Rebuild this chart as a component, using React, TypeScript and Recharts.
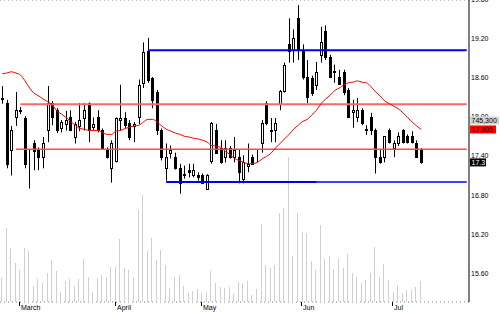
import React from 'react';
import { ComposedChart, Bar, Line, XAxis, YAxis, CartesianGrid, ReferenceLine } from 'recharts';

const opens = [18.27,18.21,17.49,18.00,18.09,17.98,17.22,17.59,17.49,17.38,
 17.79,18.21,18.10,17.83,17.89,17.99,17.69,17.86,17.98,18.21,
 17.84,17.99,17.79,17.50,17.21,17.32,17.95,17.98,17.90,17.86,
 17.99,18.52,19.01,18.60,18.38,17.79,17.21,17.45,17.38,17.21,
 17.10,17.18,17.10,17.10,17.10,16.90,17.32,17.79,17.52,17.39,
 17.52,17.38,17.38,17.05,17.25,17.39,17.38,17.59,18.21,17.78,
 17.79,18.20,18.40,19.11,19.03,19.52,19.03,18.61,18.60,18.49,
 18.95,19.31,18.91,18.69,18.61,18.69,18.41,18.07,17.99,18.10,
 17.79,17.99,17.79,17.39,17.38,17.79,17.52,17.59,17.79,17.70,
 17.70,17.59,17.50];
const highs = [18.47,18.26,17.86,18.38,18.15,18.01,17.50,17.64,17.53,17.69,
 18.47,18.24,18.13,17.95,18.09,18.10,17.92,18.21,18.21,18.22,
 17.99,18.10,17.82,17.53,17.64,17.99,18.49,18.07,17.95,17.92,
 18.57,19.14,19.21,18.61,18.41,17.82,17.59,17.56,17.45,17.28,
 17.25,17.28,17.28,17.15,17.13,17.12,17.92,17.89,17.64,17.64,
 17.55,17.69,17.49,17.41,17.59,17.42,17.49,17.95,18.24,17.98,
 17.98,18.41,18.83,19.51,19.34,19.71,19.11,18.87,18.63,18.84,
 19.38,19.40,18.95,18.80,18.72,18.72,18.44,18.26,18.29,18.13,
 17.87,18.06,17.82,17.49,17.70,17.82,17.64,17.76,17.81,17.73,
 17.78,17.64,17.52];
const lows = [18.20,17.21,17.10,17.86,18.04,17.21,16.90,17.18,17.18,17.21,
 17.61,17.87,17.75,17.76,17.79,17.78,17.59,17.78,17.79,17.61,
 17.79,17.76,17.49,17.36,16.99,17.30,17.79,17.82,17.64,17.61,
 17.89,18.44,18.52,18.13,17.72,17.33,17.02,17.36,17.19,16.82,
 17.05,17.07,17.07,17.02,16.98,16.90,17.28,17.44,17.28,17.30,
 17.36,17.30,16.98,16.98,17.15,17.27,17.30,17.45,17.87,17.61,
 17.61,18.10,18.37,18.83,18.83,18.87,18.57,18.21,18.32,18.41,
 18.83,18.87,18.60,18.52,18.49,18.33,17.98,17.83,17.92,17.87,
 17.72,17.72,17.13,17.28,17.30,17.59,17.38,17.55,17.59,17.59,
 17.59,17.38,17.28];
const closes = [18.29,17.28,17.79,18.10,18.10,17.28,17.21,17.47,17.38,17.59,
 18.21,17.99,17.79,17.92,17.95,17.79,17.89,17.95,18.10,17.79,
 17.89,17.79,17.50,17.38,17.59,17.98,17.98,17.87,17.69,17.89,
 18.49,19.00,18.57,18.26,17.79,17.38,17.38,17.49,17.21,16.98,
 17.12,17.15,17.18,17.08,16.99,17.10,17.90,17.45,17.30,17.52,
 17.38,17.49,17.15,17.30,17.27,17.28,17.39,17.90,17.90,17.79,
 17.90,18.40,18.80,19.01,19.21,19.03,18.61,18.30,18.37,18.69,
 19.14,18.91,18.61,18.70,18.50,18.38,17.99,18.10,18.10,17.90,
 17.81,17.79,17.38,17.30,17.70,17.61,17.59,17.70,17.61,17.61,
 17.61,17.39,17.30];
const movingAvg = [18.66,18.67,18.69,18.67,18.64,18.55,18.44,18.36,18.32,18.27,
 18.23,18.18,18.09,18.04,17.99,17.93,17.87,17.82,17.81,17.79,
 17.79,17.79,17.76,17.73,17.73,17.78,17.79,17.82,17.84,17.86,
 17.87,17.92,17.96,17.96,17.92,17.86,17.81,17.78,17.75,17.73,
 17.70,17.69,17.67,17.66,17.64,17.61,17.56,17.55,17.53,17.47,
 17.42,17.36,17.33,17.30,17.28,17.28,17.30,17.35,17.39,17.44,
 17.52,17.59,17.66,17.73,17.81,17.87,17.93,17.96,18.03,18.10,
 18.20,18.27,18.33,18.40,18.44,18.49,18.52,18.53,18.55,18.53,
 18.52,18.46,18.38,18.32,18.24,18.20,18.16,18.12,18.06,17.99,
 17.92,17.86,17.805];
// volume in thousands of shares
const volumes = [852,2627,1917,1385,1136,1917,1811,568,817,675,
 1030,1491,1101,355,746,817,568,817,1527,888,
 355,852,959,888,1243,1243,2237,1207,1136,888,
 3266,3799,1811,2272,1491,1846,1314,497,888,959,
 568,320,391,462,320,355,1101,675,533,497,
 533,284,710,675,746,249,462,2769,1314,1207,
 1314,3160,3337,5148,1633,3160,2485,2450,1456,1136,
 2734,1527,1633,1172,1562,1207,1704,1030,888,675,
 781,1030,1953,888,1349,781,355,604,320,426,
 426,533,745.3];

const SLOTS = 103;
const monthStarts = [4, 25, 44, 66, 86];
const monthLabels = ['March', 'April', 'May', 'Jun', 'Jul'];
const priceTicks = [15.6, 16.2, 16.8, 17.4, 18.0, 18.6, 19.2, 19.8];
const priceDomain = [15.16, 19.79];
const volumeDomain = [0, 10720];

const blueHigh = 19.02;
const blueHighFrom = 32;
const blueLow = 17.0;
const blueLowFrom = 36;
const blueLowThickTo = 69;
const redHigh = 18.19;
const redHighFrom = 4;
const redLow = 17.5;
const redLowFrom = 3;

const FONT = '"Liberation Sans", Arial, sans-serif';

const rows = Array.from({ length: SLOTS }, (_, i) =>
  i < closes.length
    ? { i, o: opens[i], h: highs[i], l: lows[i], c: closes[i], range: [lows[i], highs[i]], ma: movingAvg[i], vol: volumes[i] }
    : { i }
);

const Candle = (props: any) => {
  const { x, y, width, height, payload } = props;
  if (!payload || payload.o == null || x == null) return null;
  const { o, h, l, c } = payload;
  const cx = Math.floor(x + width / 2) + 0.5;
  const span = h - l;
  const toY = (p: number) => (span === 0 ? y : y + ((h - p) / span) * height);
  const yO = toY(o);
  const yC = toY(c);
  const top = Math.round(Math.min(yO, yC)) + 0.5;
  const bot = Math.round(Math.max(yO, yC)) + 0.5;
  const up = c >= o;
  return (
    <g>
      <line x1={cx} x2={cx} y1={y} y2={y + height} stroke="#000" strokeWidth={1} />
      <rect x={cx - 1} y={top} width={2} height={Math.max(bot - top, 0)} fill={up ? '#fff' : '#000'} stroke="#000" strokeWidth={1} />
    </g>
  );
};

const VolBar = (props: any) => {
  const { x, y, width, height } = props;
  if (x == null || !height) return null;
  const cx = Math.floor(x + width / 2) - 0.5;
  return <line x1={cx} x2={cx} y1={y} y2={y + height} stroke="#cfcfcf" strokeWidth={1} />;
};

const MonthMark = (props: any) => {
  const { viewBox, text } = props;
  if (!viewBox) return null;
  const tx = Math.floor(viewBox.x) - 0.5;
  const base = viewBox.y + viewBox.height;
  return (
    <g>
      <line x1={tx} x2={tx} y1={base} y2={base + 4} stroke="#000" strokeWidth={1} />
      <text x={tx + 1.5} y={base + 7.5} fontSize={7} fontFamily={FONT} fill="#000">
        {text}
      </text>
    </g>
  );
};

const PriceText = (props: any) => {
  const { viewBox, text } = props;
  if (!viewBox) return null;
  return (
    <text x={viewBox.x + viewBox.width + 2} y={viewBox.y} dy="0.36em" fontSize={7} fontFamily={FONT} fill="#000">
      {text}
    </text>
  );
};

const ValueBox = (props: any) => {
  const { viewBox, text, bg, color, w, dy = 0 } = props;
  if (!viewBox) return null;
  const bx = viewBox.x + viewBox.width + 1;
  const cy = viewBox.y + dy;
  return (
    <g>
      <rect x={bx} y={cy - 4} width={w} height={8} fill={bg} />
      <text x={bx + 1.5} y={cy} dy="0.36em" fontSize={7} fontFamily={FONT} fill={color}>
        {text}
      </text>
    </g>
  );
};

const lastIdx = closes.length - 1;
const lastClose = closes[lastIdx];
const lastMa = movingAvg[lastIdx];
const lastVol = Math.round(volumes[lastIdx] * 1000).toLocaleString('en-US');

export default function App() {
  return (
    <div style={{ position: 'absolute', left: 0, top: 0, width: 500, height: 312, background: '#fff' }}>
      <ComposedChart width={500} height={312} data={rows} margin={{ top: 0, right: 0, bottom: 0, left: 0 }}>
        <CartesianGrid yAxisId="p" xAxisId="x" vertical={false} stroke="#808080" strokeDasharray="1 3" />
        <XAxis xAxisId="x" dataKey="i" type="category" tick={false} tickLine={false} height={10} axisLine={{ stroke: '#000' }} />
        <XAxis xAxisId="v" dataKey="i" type="category" hide />
        <YAxis yAxisId="p" orientation="right" domain={priceDomain} ticks={priceTicks} allowDataOverflow width={31} tickLine={false} tick={false} axisLine={{ stroke: '#000' }} />
        <YAxis yAxisId="v" domain={volumeDomain} hide allowDataOverflow />
        <Bar xAxisId="v" yAxisId="v" dataKey="vol" barSize={1} shape={<VolBar />} isAnimationActive={false} />
        <ReferenceLine xAxisId="x" yAxisId="p" segment={[{ x: redHighFrom, y: redHigh }, { x: SLOTS - 1, y: redHigh }]} stroke="#ff6666" strokeWidth={2} />
        <ReferenceLine xAxisId="x" yAxisId="p" segment={[{ x: redLowFrom, y: redLow }, { x: SLOTS - 1, y: redLow }]} stroke="#ff4a4a" strokeWidth={1.5} />
        <ReferenceLine xAxisId="x" yAxisId="p" segment={[{ x: blueHighFrom, y: blueHigh }, { x: SLOTS - 1, y: blueHigh }]} stroke="#0000ee" strokeWidth={2} />
        <ReferenceLine xAxisId="x" yAxisId="p" segment={[{ x: blueLowFrom, y: blueLow }, { x: SLOTS - 1, y: blueLow }]} stroke="#0000ee" strokeWidth={1.5} />
        <ReferenceLine xAxisId="x" yAxisId="p" segment={[{ x: blueLowFrom, y: blueLow }, { x: blueLowThickTo, y: blueLow }]} stroke="#0000ee" strokeWidth={2.2} />
        <Line xAxisId="x" yAxisId="p" dataKey="ma" type="monotone" stroke="#ff0000" strokeWidth={1} dot={false} activeDot={false} legendType="none" isAnimationActive={false} />
        <Bar xAxisId="x" yAxisId="p" dataKey="range" barSize={3} shape={<Candle />} isAnimationActive={false} />
        {monthStarts.map((m, k) => (
          <ReferenceLine key={'m' + m} xAxisId="x" yAxisId="p" x={m} stroke="none" label={<MonthMark text={monthLabels[k]} />} />
        ))}
        {priceTicks.map((t) => (
          <ReferenceLine key={t} xAxisId="x" yAxisId="p" y={t} stroke="none" ifOverflow="visible" label={<PriceText text={t.toFixed(2)} />} />
        ))}
        <ReferenceLine xAxisId="x" yAxisId="p" y={lastMa} stroke="none" label={<ValueBox text={lastMa.toFixed(3)} bg="#ff0000" color="#000" w={26} />} />
        <ReferenceLine xAxisId="x" yAxisId="p" y={lastMa} stroke="none" label={<ValueBox text={lastVol} bg="#d4d4d4" color="#000" w={29} dy={-9} />} />
        <ReferenceLine xAxisId="x" yAxisId="p" y={lastClose} stroke="none" label={<ValueBox text={String(lastClose)} bg="#000" color="#fff" w={16} />} />
      </ComposedChart>
    </div>
  );
}
